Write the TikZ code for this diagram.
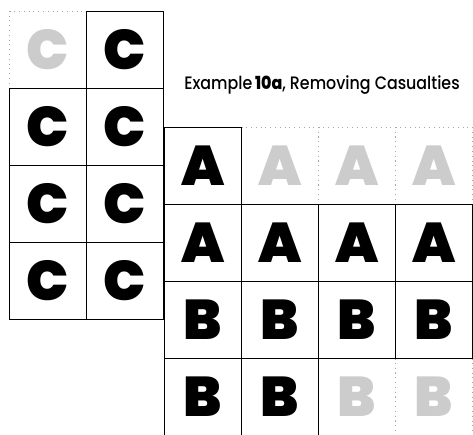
\documentclass[tikz,border=0pt]{standalone}
\usepackage{fontspec}
\setsansfont{Poppins Medium}[BoldFont={Poppins ExtraBold}]
\newfontfamily\tilefont{Poppins Black}
\usetikzlibrary{positioning}

\begin{document}
\begin{tikzpicture}[x=1pt, y=-1pt,
    cell/.style={draw, line width=1.4pt, minimum size=77pt, inner sep=0pt,
        font=\tilefont\fontsize{56}{56}\selectfont},
    ghost/.style={draw=gray!70, loosely dotted, line width=0.8pt, minimum size=77pt,
        inner sep=0pt, text=gray!40, font=\tilefont\fontsize{56}{56}\selectfont}]
    \useasboundingbox (0,0) rectangle (473,435);
    \clip (0,0) rectangle (473,435);

    % C grid: two columns, four rows, top left one removed
    \node[ghost] (c00) at (48,50) {C};
    \node[cell] (c01) at (125,50) {C};
    \foreach \r/\y in {1/127, 2/204, 3/281} {
        \node[cell] (c\r0) at (48,\y) {C};
        \node[cell] (c\r1) at (125,\y) {C};
    }

    % A/B grid: ghost cells first, so the solid borders lie on top
    \foreach \c/\x in {1/280, 2/357, 3/434} {
        \node[ghost] (a0\c) at (\x,166) {A};
    }
    \foreach \c/\x in {2/357, 3/434} {
        \node[ghost] (b1\c) at (\x,397) {B};
    }
    \node[cell] (a00) at (203,166) {A};
    \foreach \c/\x in {0/203, 1/280, 2/357, 3/434} {
        \node[cell] (a1\c) at (\x,243) {A};
        \node[cell] (b0\c) at (\x,320) {B};
    }
    \foreach \c/\x in {0/203, 1/280} {
        \node[cell] (b1\c) at (\x,397) {B};
    }

    % Title
    \node[font=\sffamily\fontsize{18}{18}\selectfont, xscale=0.88] (title) at (322,85)
        {Example\,\textbf{10a}, Removing Casualties};
\end{tikzpicture}
\end{document}
